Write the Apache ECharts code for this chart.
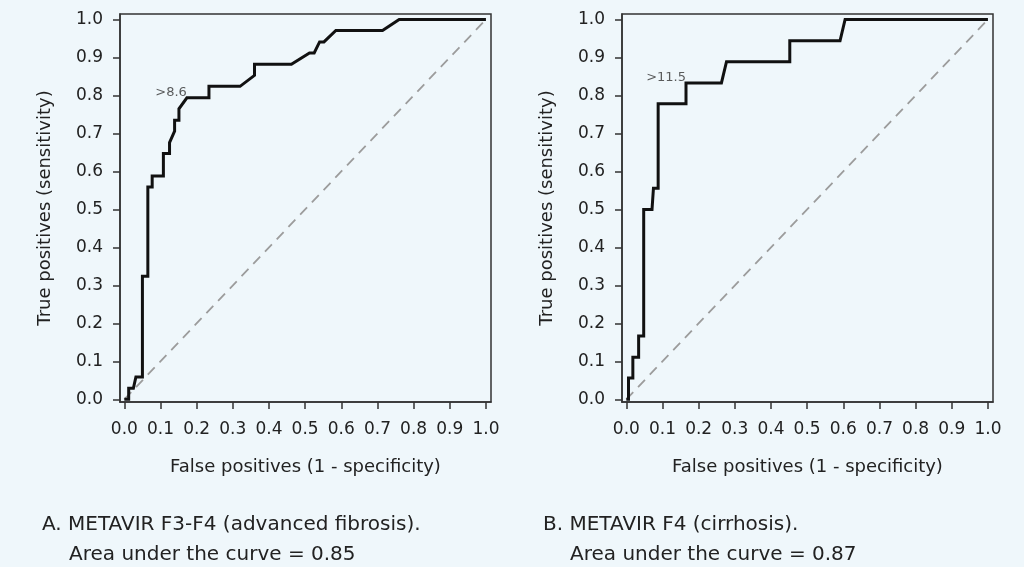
<!DOCTYPE html>
<html>
<head>
<meta charset="utf-8">
<script src="https://cdn.jsdelivr.net/npm/echarts@6/dist/echarts.min.js"></script>
<style>
  html, body { margin: 0; padding: 0; background: #eff7fb; }
  #container { width: 1024px; height: 567px; }
</style>
</head>
<body>
<div id="container"></div>
<script>
  // tick labels shared by both panels
  var tickValues = [0, 0.1, 0.2, 0.3, 0.4, 0.5, 0.6, 0.7, 0.8, 0.9, 1.0];

  // A. METAVIR F3-F4 ROC curve (1 - specificity, sensitivity)
  var rocAx = [0, 0.012, 0.012, 0.025, 0.032, 0.05, 0.05, 0.065, 0.065, 0.077, 0.077, 0.108, 0.108,
    0.125, 0.125, 0.130, 0.139, 0.139, 0.151, 0.151, 0.173, 0.234, 0.234, 0.32, 0.36, 0.36,
    0.462, 0.512, 0.525, 0.54, 0.552, 0.585, 0.714, 0.76, 1.0];
  var rocAy = [0, 0, 0.029, 0.029, 0.059, 0.059, 0.324, 0.324, 0.559, 0.559, 0.588, 0.588, 0.647,
    0.647, 0.676, 0.676, 0.706, 0.735, 0.735, 0.765, 0.794, 0.794, 0.824, 0.824, 0.853, 0.882,
    0.882, 0.912, 0.912, 0.941, 0.941, 0.971, 0.971, 1.0, 1.0];

  // B. METAVIR F4 ROC curve
  var rocBx = [0, 0.006, 0.006, 0.018, 0.018, 0.034, 0.034, 0.048, 0.048, 0.071, 0.075, 0.088,
    0.088, 0.165, 0.165, 0.263, 0.277, 0.452, 0.452, 0.591, 0.605, 1.0];
  var rocBy = [0, 0, 0.056, 0.056, 0.111, 0.111, 0.167, 0.167, 0.5, 0.5, 0.556, 0.556,
    0.778, 0.778, 0.833, 0.833, 0.889, 0.889, 0.944, 0.944, 1.0, 1.0];

  // chance line
  var diagX = [0, 1];
  var diagY = [0, 1];

  // cut-off annotations
  var cutoffLabels = ['>8.6', '>11.5'];
  var cutoffX = [0.173, 0.165];
  var cutoffY = [0.794, 0.833];

  var captionTitles = ['A. METAVIR F3-F4 (advanced fibrosis).', 'B. METAVIR F4 (cirrhosis).'];
  var captionAuc = ['Area under the curve = 0.85', 'Area under the curve = 0.87'];

  var xName = 'False positives (1 - specificity)';
  var yName = 'True positives (sensitivity)';

  function zip(xs, ys) {
    return xs.map(function (x, i) { return [x, ys[i]]; });
  }

  var font = 'DejaVu Sans';
  var ink = '#222';
  var panels = [
    { left: 120, x: rocAx, y: rocAy, capX: 42 },
    { left: 622, x: rocBx, y: rocBy, capX: 543 }
  ];

  var grids = [], xAxes = [], yAxes = [], series = [], graphics = [];

  panels.forEach(function (p, i) {
    grids.push({
      left: p.left, top: 14, width: 371, height: 388,
      show: true, borderColor: '#333', borderWidth: 1.5, backgroundColor: 'transparent'
    });
    var axisCommon = {
      type: 'value',
      gridIndex: i,
      splitLine: { show: false },
      axisLine: { show: true, onZero: false, lineStyle: { color: '#333', width: 1.5 } },
      axisTick: { show: true, customValues: tickValues, length: 7, lineStyle: { color: '#333', width: 1.5 } },
      nameLocation: 'middle',
      nameTextStyle: { fontFamily: font, fontSize: 18, color: ink }
    };
    xAxes.push(Object.assign({}, axisCommon, {
      min: -0.012, max: 1.014,
      name: xName, nameGap: 56,
      axisLabel: {
        customValues: tickValues, margin: 19,
        fontFamily: font, fontSize: 17, color: ink,
        formatter: function (v) { return v.toFixed(1); }
      }
    }));
    yAxes.push(Object.assign({}, axisCommon, {
      min: -0.007, max: 1.0145,
      name: yName, nameGap: 66,
      axisLabel: {
        customValues: tickValues, margin: 17,
        fontFamily: font, fontSize: 17, color: ink,
        formatter: function (v) { return v.toFixed(1); }
      }
    }));

    series.push({
      type: 'line', xAxisIndex: i, yAxisIndex: i, silent: true,
      data: zip(diagX, diagY), symbol: 'none',
      lineStyle: { color: '#9c9c9c', width: 1.8, type: [10, 7] }
    });
    series.push({
      type: 'line', xAxisIndex: i, yAxisIndex: i, silent: true,
      data: zip(p.x, p.y), symbol: 'none',
      lineStyle: { color: '#111', width: 3, join: 'miter' }
    });
    series.push({
      type: 'scatter', xAxisIndex: i, yAxisIndex: i, silent: true,
      data: [[cutoffX[i], cutoffY[i]]], symbolSize: 0,
      label: {
        show: true, position: 'left', distance: 0, offset: [0, -5],
        formatter: cutoffLabels[i],
        fontFamily: font, fontSize: 13, color: '#333'
      }
    });

    graphics.push({
      type: 'text', left: p.capX, top: 515,
      style: { text: captionTitles[i], font: '20px "DejaVu Sans"', fill: ink }
    });
    graphics.push({
      type: 'text', left: p.capX + 27, top: 545,
      style: { text: captionAuc[i], font: '20px "DejaVu Sans"', fill: ink }
    });
  });

  var chart = echarts.init(document.getElementById('container'), null, { renderer: 'canvas' });
  chart.setOption({
    backgroundColor: '#eff7fb',
    animation: false,
    grid: grids,
    xAxis: xAxes,
    yAxis: yAxes,
    series: series,
    graphic: graphics
  });
</script>
</body>
</html>
